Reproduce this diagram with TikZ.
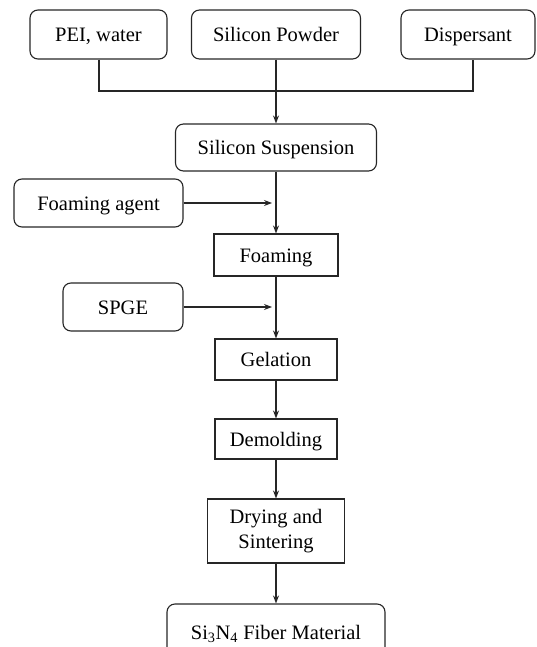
\documentclass[tikz,border=0pt]{standalone}
\usepackage{fontspec}
\setmainfont{Liberation Serif}
\usetikzlibrary{arrows.meta}
\begin{document}
\begin{tikzpicture}[x=1pt,y=-1pt,
  every node/.style={font=\fontsize{20.5}{25}\selectfont, inner sep=0pt},
  onel/.style={text height=15pt, text depth=1pt},
  rbox/.style={draw=black!85, line width=1.1pt, rounded corners=8pt},
  sbox/.style={draw=black!85, line width=1.1pt},
  conn/.style={line width=1.1pt, draw=black!85},
  arr/.style={conn, -{Stealth[length=8pt,width=6pt]}}]
\useasboundingbox (0,0) rectangle (536,647);
\clip (0,0) rectangle (536,647);
% top row
\node[rbox, onel, minimum width=137pt, minimum height=49pt] (pei) at (98.5,34.5) {PEI, water};
\node[rbox, onel, minimum width=169pt, minimum height=49pt] (powder) at (276,34.5) {Silicon Powder};
\node[rbox, onel, minimum width=134pt, minimum height=49pt] (disp) at (468,34.5) {Dispersant};
% junction
\coordinate (jl) at (99,91);
\coordinate (jr) at (473,91);
\draw[conn] (pei.south -| jl) -- (jl) -- (jr) -- (disp.south -| jr);
% main column
\node[rbox, onel, minimum width=201pt, minimum height=47pt] (susp) at (276,147.5) {Silicon Suspension};
\node[sbox, onel, minimum width=124pt, minimum height=42pt] (foam) at (276,255) {Foaming};
\node[sbox, onel, minimum width=122pt, minimum height=41pt] (gel) at (276,359.5) {Gelation};
\node[sbox, onel, minimum width=122pt, minimum height=40pt] (demold) at (276,439) {Demolding};
\node[sbox, minimum width=137pt, minimum height=64pt, align=center] (dry) at (276,531) {Drying and\\Sintering};
\node[rbox, onel, minimum width=218pt, minimum height=56pt] (final) at (276,632) {Si\textsubscript{3}N\textsubscript{4} Fiber Material};
% side inputs
\node[rbox, onel, minimum width=169pt, minimum height=48pt] (fagent) at (98.5,203) {Foaming agent};
\node[rbox, onel, minimum width=120pt, minimum height=48pt] (spge) at (123,307) {SPGE};
\coordinate (fa) at (272,203);
\coordinate (sa) at (272,307);
% connectors
\draw[arr] (powder.south) -- (susp.north);
\draw[arr] (susp.south) -- (foam.north);
\draw[arr] (foam.south) -- (gel.north);
\draw[arr] (gel.south) -- (demold.north);
\draw[arr] (demold.south) -- (dry.north);
\draw[arr] (dry.south) -- (final.north);
\draw[arr] (fagent.east) -- (fa);
\draw[arr] (spge.east) -- (sa);
\end{tikzpicture}
\end{document}
